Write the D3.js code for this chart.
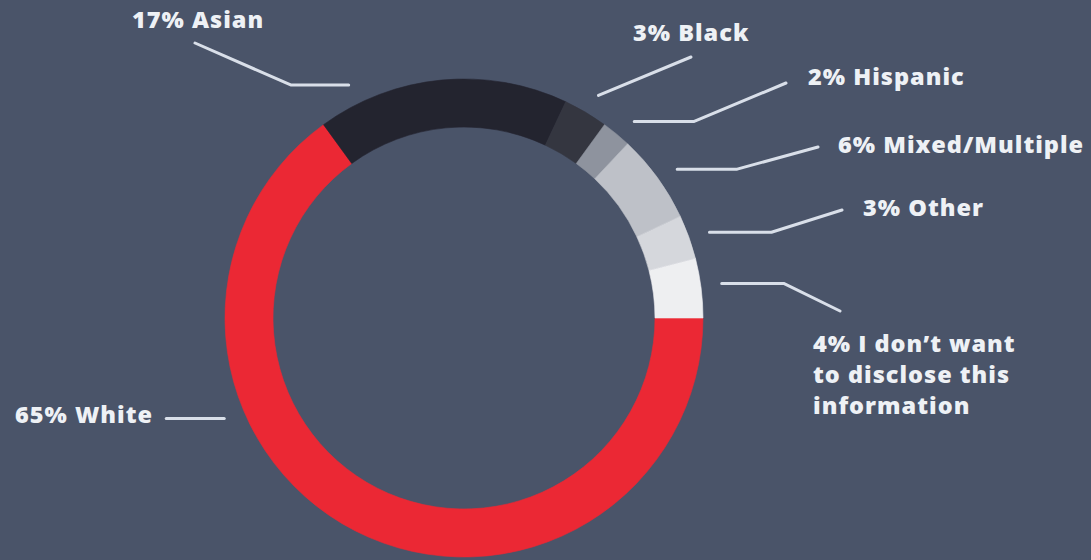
<!DOCTYPE html>
<html>
<head>
<meta charset="utf-8">
<script src="https://cdn.jsdelivr.net/npm/d3@7"></script>
<style>
  html, body { margin: 0; padding: 0; background: #4a5469; }
  svg { display: block; }
  .label { font-family: "Open Sans", "DejaVu Sans", sans-serif; font-weight: 800; font-size: 23.5px; fill: #eef1f5; letter-spacing: 1px; }
  .leader { fill: none; stroke: #d9dfe9; stroke-width: 3; stroke-linecap: round; stroke-linejoin: round; }
</style>
</head>
<body>
<svg id="chart" width="1091" height="560"></svg>
<script>
// Survey breakdown by ethnicity (percent of respondents)
const categories = ["White", "Asian", "Black", "Hispanic", "Mixed/Multiple", "Other", "I don’t want to disclose this information"];
const shares = [65, 17, 3, 2, 6, 3, 4];
const colors = ["#eb2834", "#23242f", "#343640", "#8e939e", "#bec1c8", "#d5d7dc", "#eeeff1"];
// category names split into display lines
const nameLines = [["White"], ["Asian"], ["Black"], ["Hispanic"], ["Mixed/Multiple"], ["Other"], ["I don’t want", "to disclose this", "information"]];

// layout
const width = 1091, height = 560;
const cx = 464, cy = 318, outerR = 239, innerR = 191;
const anchorR = 260;
// where each leader starts along its slice (0 = slice start, 1 = slice end),
// the signed length of its horizontal run and where its last segment ends
const leaders = [
  { frac: 0.672, run: -58, end: null },
  { frac: 0.158, run: -58, end: [195, 43] },
  { frac: 0.55,  run: 0,   end: [691, 57] },
  { frac: 0.68,  run: 60,  end: [786, 83] },
  { frac: 0.55,  run: 60,  end: [818, 147] },
  { frac: 0.55,  run: 62,  end: [842, 210] },
  { frac: 0.47,  run: 62,  end: [840, 311] }
];
const labelPos = [[15, 423], [132, 28], [633, 41], [808, 85], [838, 153], [863, 216], [813, 352]];
const lineHeight = 31;

const svg = d3.select("#chart");
svg.append("rect").attr("width", width).attr("height", height).attr("fill", "#4a5469");

const data = categories.map((c, i) => ({ category: c, value: shares[i], color: colors[i], lines: nameLines[i], i }));

const pie = d3.pie()
  .value(d => d.value)
  .sort(null)
  .startAngle(Math.PI / 2)
  .endAngle(Math.PI / 2 + 2 * Math.PI);

const arc = d3.arc().innerRadius(innerR).outerRadius(outerR);
const arcs = pie(data);

const g = svg.append("g").attr("transform", `translate(${cx},${cy})`);
g.selectAll("path.slice")
  .data(arcs)
  .join("path")
  .attr("class", "slice")
  .attr("d", arc)
  .attr("fill", d => d.data.color)
  .attr("stroke", d => d.data.color)
  .attr("stroke-width", 0.6);

// leader lines
const line = d3.line();
svg.selectAll("path.leader")
  .data(arcs)
  .join("path")
  .attr("class", "leader")
  .attr("d", d => {
    const L = leaders[d.data.i];
    const a = d.startAngle + L.frac * (d.endAngle - d.startAngle);
    const p0 = [cx + anchorR * Math.sin(a), cy - anchorR * Math.cos(a)];
    const pts = [p0];
    if (L.run !== 0) pts.push([p0[0] + L.run, p0[1]]);
    if (L.end) pts.push(L.end);
    return line(pts);
  });

// labels
const labels = svg.selectAll("text.label")
  .data(data)
  .join("text")
  .attr("class", "label")
  .attr("x", d => labelPos[d.i][0])
  .attr("y", d => labelPos[d.i][1]);

labels.selectAll("tspan")
  .data(d => d.lines.map((t, k) => ({ text: k === 0 ? `${d.value}% ${t}` : t, k, x: labelPos[d.i][0] })))
  .join("tspan")
  .attr("x", t => t.x)
  .attr("dy", t => t.k === 0 ? 0 : lineHeight)
  .text(t => t.text);
</script>
</body>
</html>
